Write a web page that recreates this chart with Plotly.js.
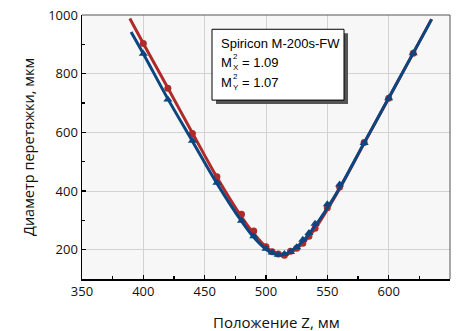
<!DOCTYPE html>
<html>
<head>
<meta charset="utf-8">
<script src="https://cdn.plot.ly/plotly-3.0.1.min.js"></script>
<style>html,body{margin:0;padding:0;background:#fff;}#chart{width:459px;height:331px;}</style>
</head>
<body>
<div id="chart"></div>
<script>
// Measured points (Z, mm)
var zPoints = [400, 420, 440, 460, 480, 490, 500, 505, 510, 515, 520, 525, 530, 535, 540, 550, 560, 580, 600, 620];
var dX = [903, 750, 596, 449, 321, 264, 210, 193, 185, 181, 195, 205, 222, 246, 273, 343, 414, 565, 716, 870];
var dY = [868, 712, 571, 428, 299, 246, 203, 190, 183, 185, 192, 208, 234, 257, 288, 355, 422, 564, 716, 870];
// Fit curves
var zFitX = [389, 400, 420, 440, 460, 480, 490, 500, 505, 510, 515, 520, 530, 540, 550, 560, 580, 600, 620, 635];
var fitX  = [988, 903, 751, 598, 447, 312, 255, 209, 194, 186, 183, 190, 222, 272, 337, 408, 563, 716, 870, 986];
var zFitY = [390, 400, 420, 440, 460, 480, 490, 500, 505, 510, 515, 520, 530, 540, 550, 560, 580, 600, 620, 635];
var fitY  = [942, 868, 714, 570, 426, 297, 242, 201, 188, 183, 184, 194, 228, 281, 342, 410, 564, 717, 870, 985];
var xTicks = [350, 400, 450, 500, 550, 600, 650];
var yTicks = [200, 400, 600, 800, 1000];

var red = '#b02a2a', blue = '#0b4680';
var traces = [
  {x: zFitX, y: fitX, mode: 'lines', line: {color: red, width: 3, shape: 'spline'}, hoverinfo: 'skip'},
  {x: zPoints, y: dX, mode: 'markers', marker: {color: red, size: 7, symbol: 'circle'}},
  {x: zFitY, y: fitY, mode: 'lines', line: {color: blue, width: 3, shape: 'spline'}, hoverinfo: 'skip'},
  {x: zPoints, y: dY, mode: 'markers', marker: {color: blue, size: 8, symbol: 'triangle-up'}}
];

function px2x(p){ return (p - 82) / 368; }
function py2y(p){ return (279.3 - p) / 264.6; }

var tf = {family: 'Liberation Sans, Arial, sans-serif', size: 13, color: '#000'};
var sf = {family: 'Liberation Sans, Arial, sans-serif', size: 8, color: '#000'};
function ann(text, px, py, font){
  return {xref: 'paper', yref: 'paper', x: px2x(px), y: py2y(py), xanchor: 'left', yanchor: 'middle',
          text: text, showarrow: false, font: font, borderpad: 0};
}

var layout = {
  width: 459, height: 331,
  margin: {l: 82, r: 9, t: 15, b: 52},
  paper_bgcolor: '#fff', plot_bgcolor: '#f7f7f7',
  showlegend: false,
  font: {family: 'Open Sans, sans-serif', color: '#111'},
  xaxis: {
    range: [350, 650], tickvals: xTicks, ticktext: xTicks.map(String),
    showgrid: true, gridcolor: '#d2d2d2', gridwidth: 1, zeroline: false,
    showline: true, linecolor: '#000', linewidth: 1.5,
    ticks: 'inside', ticklen: 4, tickcolor: '#000', tickwidth: 1.2,
    minor: {dtick: 25, tick0: 350, ticks: 'inside', ticklen: 3, tickcolor: '#000', showgrid: false},
    tickfont: {family: 'Open Sans, sans-serif', size: 13, color: '#111'}
  },
  yaxis: {
    range: [100, 1000], tickvals: yTicks, ticktext: yTicks.map(String),
    showgrid: true, gridcolor: '#d2d2d2', gridwidth: 1, zeroline: false,
    showline: true, linecolor: '#000', linewidth: 1.5,
    ticks: 'inside', ticklen: 4, tickcolor: '#000', tickwidth: 1.2,
    minor: {dtick: 100, tick0: 100, ticks: 'inside', ticklen: 3, tickcolor: '#000', showgrid: false},
    tickfont: {family: 'Open Sans, sans-serif', size: 13, color: '#111'},
    title: {text: 'Диаметр перетяжки, мкм', font: {family: 'Open Sans, sans-serif', size: 14.5, color: '#111'}, standoff: 10}
  },
  shapes: [
    {type: 'line', xref: 'paper', yref: 'paper', x0: 0, x1: 1, y0: 1, y1: 1, line: {color: '#555', width: 1}, layer: 'above'},
    {type: 'line', xref: 'paper', yref: 'paper', x0: 1, x1: 1, y0: 0, y1: 1, line: {color: '#555', width: 1}, layer: 'above'},
    {type: 'rect', xref: 'paper', yref: 'paper', x0: px2x(216), x1: px2x(348), y0: py2y(104), y1: py2y(33),
     fillcolor: '#555', line: {width: 0}, layer: 'above'},
    {type: 'rect', xref: 'paper', yref: 'paper', x0: px2x(212), x1: px2x(344), y0: py2y(100), y1: py2y(29),
     fillcolor: '#fff', line: {color: '#000', width: 1}, layer: 'above'}
  ],
  annotations: [
    ann('Spiricon M-200s-FW', 220, 43, tf),
    ann('M', 220, 62, tf),
    ann('2', 232, 56.5, sf),
    ann('X', 232, 67.5, sf),
    ann('= 1.09', 241, 62, tf),
    ann('M', 220, 82, tf),
    ann('2', 232, 76.5, sf),
    ann('Y', 232, 87.5, sf),
    ann('= 1.07', 241, 82, tf),
    {xref: 'paper', yref: 'paper', x: px2x(276), y: py2y(322), xanchor: 'center', yanchor: 'middle',
     text: 'Положение Z, мм', showarrow: false, font: {family: 'Open Sans, sans-serif', size: 15, color: '#111'}}
  ]
};

Plotly.newPlot('chart', traces, layout, {staticPlot: true});
</script>
</body>
</html>
